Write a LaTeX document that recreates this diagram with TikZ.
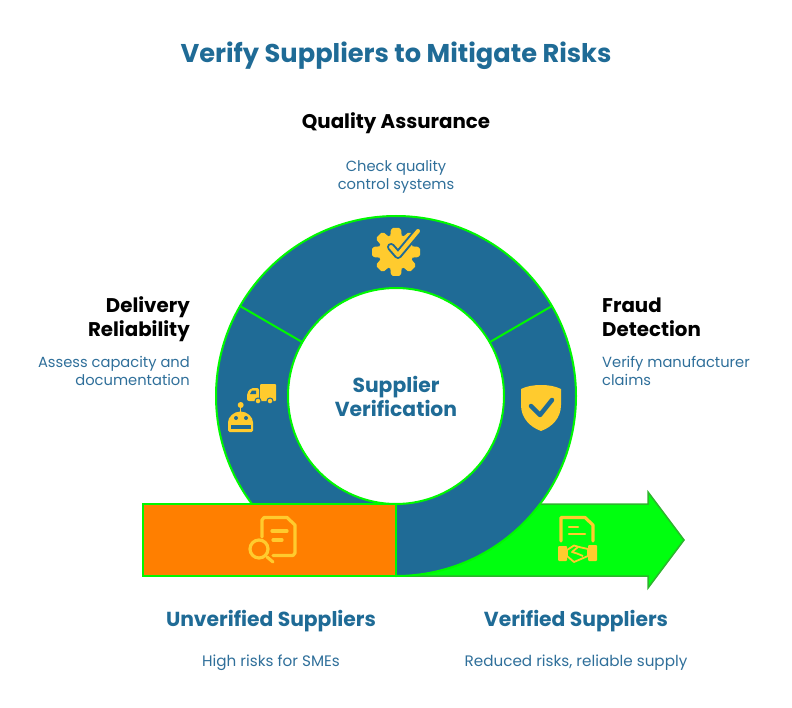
\documentclass[tikz,border=0pt]{standalone}
\usepackage{fontspec}
\setmainfont{Poppins}
\definecolor{ringblue}{HTML}{1F6B96}
\definecolor{textblue}{HTML}{2F6F9A}
\definecolor{limeline}{HTML}{00F800}
\definecolor{limefill}{HTML}{00FF0F}
\definecolor{arrowline}{HTML}{2DB52D}
\definecolor{boxorange}{HTML}{FF7F00}
\definecolor{iconyellow}{HTML}{FFCB2E}
\begin{document}
\begin{tikzpicture}[x=1pt,y=-1pt,
    title/.style={font=\bfseries\fontsize{25.7}{30}\selectfont,text=ringblue},
    head/.style={font=\bfseries\fontsize{19.8}{24}\selectfont,text=black,align=center},
    bluehead/.style={font=\bfseries\fontsize{20.3}{24}\selectfont,text=ringblue,align=center},
    note/.style={font=\fontsize{14.7}{18}\selectfont,text=textblue,align=center},
    lownote/.style={font=\fontsize{15.2}{18}\selectfont,text=textblue,align=center},
    iconline/.style={draw=iconyellow,line width=3.2pt,line cap=round,line join=round},
    holeline/.style={draw=ringblue,line cap=round,line join=round}]
    \useasboundingbox (0,0) rectangle (792,708);

    % arrow, ring, box
    \draw[draw=arrowline,fill=limefill,line width=1.5pt,line join=miter] (396,504) -- (648,504) -- (648,492) -- (684,540)
        -- (648,588) -- (648,576) -- (396,576) -- cycle;
    \fill[ringblue,draw=limeline,line width=2pt] (396,396) circle (180);
    \fill[white,draw=limeline,line width=2pt] (396,396) circle (108);
    \coordinate (leftouter) at (240,306);
    \coordinate (leftinner) at (302,342);
    \coordinate (rightouter) at (552,306);
    \coordinate (rightinner) at (490,342);
    \draw[limeline,line width=2pt] (leftouter) -- (leftinner);
    \draw[limeline,line width=2pt] (rightouter) -- (rightinner);
    \draw[draw=limeline,fill=boxorange,line width=2pt] (143,504) rectangle (396,576);

    % texts
    \node[title] (maintitle) at (396,56) {Verify Suppliers to Mitigate Risks};
    \node[head] (quality) at (396,123) {Quality Assurance};
    \node[note] (qualitynote) at (396,177) {Check quality\\control systems};
    \node[head,align=right,anchor=east,inner sep=0pt] (delivery) at (190,319) {Delivery\\Reliability};
    \node[note,align=right,anchor=east,inner sep=0pt] (deliverynote) at (190,371) {Assess capacity and\\documentation};
    \node[head,align=left,anchor=west,inner sep=0pt] (fraud) at (602,317) {Fraud\\Detection};
    \node[note,align=left,anchor=west,inner sep=0pt] (fraudnote) at (602,371) {Verify manufacturer\\claims};
    \node[bluehead] (center) at (396,396) {Supplier\\Verification};
    \node[bluehead] (unverified) at (271,621) {Unverified Suppliers};
    \node[lownote] (unverifiednote) at (271,663) {High risks for SMEs};
    \node[bluehead] (verified) at (576,621) {Verified Suppliers};
    \node[lownote] (verifiednote) at (576,663) {Reduced risks, reliable supply};

    % gear
    \foreach \a in {0,45,...,315}
        \fill[iconyellow,rounded corners=2pt,rotate around={\a:(396,252)}] (391,228) -- (390,240) -- (402,240) -- (401,228) -- cycle;
    \fill[iconyellow] (396,252) circle (17.5);
    \draw[holeline,line width=8pt] (391,247) -- (398,255) -- (418,231);
    \draw[iconline,line width=4pt] (391,247) -- (398,255) -- (418,231);

    % truck
    \fill[iconyellow,rounded corners=1pt] (260,384) rectangle (276,401);
    \fill[iconyellow,rounded corners=2pt] (247,401) -- (247,393) -- (251,388) -- (259,388) -- (259,401) -- cycle;
    \fill[ringblue] (250,394) -- (252,390.5) -- (256,390.5) -- (256,394) -- cycle;
    \fill[iconyellow,draw=ringblue,line width=1pt] (258,401) circle (3);
    \fill[iconyellow,draw=ringblue,line width=1pt] (270,401) circle (3);

    % robot
    \fill[iconyellow] (240.7,405) circle (3);
    \fill[iconyellow] (240,405) rectangle (241.4,413);
    \fill[iconyellow,rounded corners=1.5pt] (228,432) -- (228,424) arc (180:360:12.5) -- (253,432) -- cycle;
    \fill[ringblue] (236,418) circle (2);
    \fill[ringblue] (246,418) circle (2);
    \fill[ringblue] (231,425) rectangle (251,429);

    % shield
    \fill[iconyellow] (541,385) .. controls (548,385) and (555,386) .. (561,389) -- (561,405)
        .. controls (561,418) and (552,427) .. (541,431) .. controls (530,427) and (521,418) .. (521,405)
        -- (521,389) .. controls (527,386) and (534,385) .. (541,385) -- cycle;
    \draw[holeline,line width=4.5pt] (531,406) -- (540,415) -- (552,400);

    % document and magnifier
    \draw[iconline] (262,537) -- (262,520) -- (264,517.5) -- (287,517.5) -- (295,525) -- (295,553) -- (293,555.5) -- (273,555.5);
    \draw[iconline] (272,531) -- (287,531);
    \draw[iconline] (273,540) -- (282,540);
    \draw[iconline] (259,549) circle (9);
    \draw[iconline] (267,557) -- (273,562);

    % document and handshake
    \draw[iconline] (561,541) -- (561,517.5) -- (585,517.5) -- (593,525) -- (593,541);
    \draw[iconline,line width=2.5pt] (569,527) -- (578,527);
    \draw[iconline,line width=2.5pt] (569,534) -- (585,534);
    \fill[iconyellow,rounded corners=1pt] (558,546) rectangle (567,561);
    \fill[iconyellow,rounded corners=1pt] (588,545) rectangle (597,561);
    \draw[draw=iconyellow,line width=1.8pt,line join=round] (567,550) -- (574,545.5) -- (579,547) -- (588,549) -- (588,556) -- (574,562) -- (567,556) -- cycle;
    \draw[draw=iconyellow,line width=1.8pt,line join=round] (578,547) -- (572,552) -- (577,553.5) -- (583,556);
\end{tikzpicture}
\end{document}
